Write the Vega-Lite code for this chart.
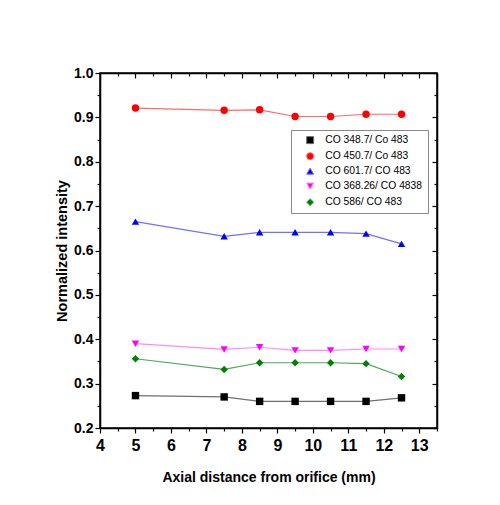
{
  "$schema": "https://vega.github.io/schema/vega-lite/v6.json",
  "width": 337,
  "height": 355,
  "autosize": {"type": "none"},
  "padding": {"left": 100, "top": 73, "right": 63, "bottom": 77},
  "background": "white",
  "config": {
    "view": {"stroke": "black", "strokeWidth": 1.5},
    "axis": {
      "grid": false,
      "domainColor": "black",
      "domainWidth": 1.5,
      "tickColor": "black",
      "tickWidth": 1.2,
      "labelColor": "black",
      "titleColor": "black",
      "labelFont": "Liberation Sans, Arial",
      "titleFont": "Liberation Sans, Arial",
      "labelFontWeight": "bold",
      "titleFontWeight": "bold"
    },
    "legend": {
      "orient": "none",
      "legendX": 191,
      "legendY": 57,
      "title": null,
      "strokeColor": "#888888",
      "fillColor": "white",
      "padding": 5,
      "labelFont": "Liberation Sans, Arial",
      "labelFontSize": 10.3,
      "labelColor": "black",
      "symbolSize": 49,
      "symbolOffset": 9,
      "labelOffset": 10,
      "rowPadding": 4
    }
  },
  "params": [
    {
      "name": "legendShape",
      "expr": "['M-3.7,0H3.7M-0.86,-0.86H0.86V0.86H-0.86Z','M-3.7,0H3.7M-1,0A1,1,0,1,1,1,0A1,1,0,1,1,-1,0Z','M-3.7,0H3.7M0,-1.1L1.15,0.85L-1.15,0.85Z','M-3.7,0H3.7M0,1.1L1.15,-0.85L-1.15,-0.85Z','M-3.7,0H3.7M0,-1.25L1.1,0L0,1.25L-1.1,0Z']"
    },
    {
      "name": "seriesOrder",
      "expr": "['CO 348.7/ Co 483','CO 450.7/ Co 483','CO 601.7/ CO 483','CO 368.26/ CO 4838','CO 586/ CO 483']"
    },
    {
      "name": "seriesColor",
      "expr": "['#000000','#ff0000','#0000ff','#ff00ff','#008000']"
    }
  ],
  "data": {
    "values": [
      {"series": "CO 348.7/ Co 483", "x": 5, "y": 0.273},
      {"series": "CO 348.7/ Co 483", "x": 7.5, "y": 0.270},
      {"series": "CO 348.7/ Co 483", "x": 8.5, "y": 0.260},
      {"series": "CO 348.7/ Co 483", "x": 9.5, "y": 0.260},
      {"series": "CO 348.7/ Co 483", "x": 10.5, "y": 0.260},
      {"series": "CO 348.7/ Co 483", "x": 11.5, "y": 0.260},
      {"series": "CO 348.7/ Co 483", "x": 12.5, "y": 0.268},
      {"series": "CO 450.7/ Co 483", "x": 5, "y": 0.921},
      {"series": "CO 450.7/ Co 483", "x": 7.5, "y": 0.916},
      {"series": "CO 450.7/ Co 483", "x": 8.5, "y": 0.917},
      {"series": "CO 450.7/ Co 483", "x": 9.5, "y": 0.902},
      {"series": "CO 450.7/ Co 483", "x": 10.5, "y": 0.902},
      {"series": "CO 450.7/ Co 483", "x": 11.5, "y": 0.907},
      {"series": "CO 450.7/ Co 483", "x": 12.5, "y": 0.907},
      {"series": "CO 601.7/ CO 483", "x": 5, "y": 0.665},
      {"series": "CO 601.7/ CO 483", "x": 7.5, "y": 0.632},
      {"series": "CO 601.7/ CO 483", "x": 8.5, "y": 0.641},
      {"series": "CO 601.7/ CO 483", "x": 9.5, "y": 0.641},
      {"series": "CO 601.7/ CO 483", "x": 10.5, "y": 0.641},
      {"series": "CO 601.7/ CO 483", "x": 11.5, "y": 0.638},
      {"series": "CO 601.7/ CO 483", "x": 12.5, "y": 0.615},
      {"series": "CO 368.26/ CO 4838", "x": 5, "y": 0.390},
      {"series": "CO 368.26/ CO 4838", "x": 7.5, "y": 0.377},
      {"series": "CO 368.26/ CO 4838", "x": 8.5, "y": 0.382},
      {"series": "CO 368.26/ CO 4838", "x": 9.5, "y": 0.375},
      {"series": "CO 368.26/ CO 4838", "x": 10.5, "y": 0.375},
      {"series": "CO 368.26/ CO 4838", "x": 11.5, "y": 0.378},
      {"series": "CO 368.26/ CO 4838", "x": 12.5, "y": 0.378},
      {"series": "CO 586/ CO 483", "x": 5, "y": 0.356},
      {"series": "CO 586/ CO 483", "x": 7.5, "y": 0.332},
      {"series": "CO 586/ CO 483", "x": 8.5, "y": 0.347},
      {"series": "CO 586/ CO 483", "x": 9.5, "y": 0.347},
      {"series": "CO 586/ CO 483", "x": 10.5, "y": 0.347},
      {"series": "CO 586/ CO 483", "x": 11.5, "y": 0.345},
      {"series": "CO 586/ CO 483", "x": 12.5, "y": 0.316}
    ]
  },
  "layer": [
    {
      "mark": {"type": "line", "strokeWidth": 1.2},
      "encoding": {
        "x": {
          "field": "x", "type": "quantitative",
          "scale": {"domain": [4, 13.5], "nice": false, "zero": false},
          "axis": {
            "orient": "bottom",
            "title": "Axial distance from orifice (mm)",
            "titleFontSize": 14,
            "titlePadding": 17,
            "values": [4, 4.5, 5, 5.5, 6, 6.5, 7, 7.5, 8, 8.5, 9, 9.5, 10, 10.5, 11, 11.5, 12, 12.5, 13, 13.5],
            "labelExpr": "datum.value % 1 !== 0 ? '' : format(datum.value, 'd')",
            "labelFontSize": 16,
            "labelPadding": 4,
            "labelFlush": false,
            "tickSize": {"condition": {"test": "datum.value % 1 !== 0", "value": 3}, "value": 5}
          }
        },
        "y": {
          "field": "y", "type": "quantitative",
          "scale": {"domain": [0.2, 1.0], "nice": false, "zero": false},
          "axis": {
            "orient": "left",
            "title": "Normalized intensity",
            "titleFontSize": 14.5,
            "titlePadding": 4,
            "values": [0.2, 0.25, 0.3, 0.35, 0.4, 0.45, 0.5, 0.55, 0.6, 0.65, 0.7, 0.75, 0.8, 0.85, 0.9, 0.95, 1.0],
            "labelExpr": "round(datum.value * 20) % 2 === 1 ? '' : format(datum.value, '.1f')",
            "labelFontSize": 14,
            "labelPadding": 2,
            "labelFlush": false,
            "tickSize": {"condition": {"test": "round(datum.value * 20) % 2 === 1", "value": 3}, "value": 5}
          }
        },
        "detail": {"field": "series"},
        "stroke": {
          "field": "series", "type": "nominal",
          "scale": {
            "domain": ["CO 348.7/ Co 483", "CO 450.7/ Co 483", "CO 601.7/ CO 483", "CO 368.26/ CO 4838", "CO 586/ CO 483"],
            "range": ["#707070", "#ff6a6a", "#7070ff", "#ff88ff", "#4caa5c"]
          },
          "legend": {
            "encode": {
              "symbols": {
                "update": {
                  "shape": {"value": {"signal": "legendShape[indexOf(seriesOrder, datum.value)]"}},
                  "fill": {"value": {"signal": "seriesColor[indexOf(seriesOrder, datum.value)]"}},
                  "stroke": {"value": {"signal": "seriesColor[indexOf(seriesOrder, datum.value)]"}},
                  "strokeWidth": {"value": 1}
                }
              }
            }
          }
        }
      }
    },
    {
      "mark": {"type": "point", "filled": true, "opacity": 1, "size": 55},
      "encoding": {
        "x": {
          "field": "x", "type": "quantitative",
          "axis": {
            "orient": "top",
            "title": null,
            "labels": false,
            "values": [4, 4.5, 5, 5.5, 6, 6.5, 7, 7.5, 8, 8.5, 9, 9.5, 10, 10.5, 11, 11.5, 12, 12.5, 13, 13.5],
            "tickSize": {"condition": {"test": "datum.value % 1 !== 0", "value": -3}, "value": -5}
          }
        },
        "y": {
          "field": "y", "type": "quantitative",
          "axis": {
            "orient": "right",
            "title": null,
            "labels": false,
            "values": [0.2, 0.25, 0.3, 0.35, 0.4, 0.45, 0.5, 0.55, 0.6, 0.65, 0.7, 0.75, 0.8, 0.85, 0.9, 0.95, 1.0],
            "tickSize": {"condition": {"test": "round(datum.value * 20) % 2 === 1", "value": -3}, "value": -5}
          }
        },
        "shape": {
          "field": "series", "type": "nominal",
          "scale": {
            "domain": ["CO 348.7/ Co 483", "CO 450.7/ Co 483", "CO 601.7/ CO 483", "CO 368.26/ CO 4838", "CO 586/ CO 483"],
            "range": ["square", "circle", "triangle-up", "triangle-down", "diamond"]
          },
          "legend": {
            "encode": {
              "symbols": {
                "update": {
                  "shape": {"value": {"signal": "legendShape[indexOf(seriesOrder, datum.value)]"}},
                  "fill": {"value": {"signal": "seriesColor[indexOf(seriesOrder, datum.value)]"}},
                  "stroke": {"value": {"signal": "seriesColor[indexOf(seriesOrder, datum.value)]"}},
                  "strokeWidth": {"value": 1}
                }
              }
            }
          }
        },
        "color": {
          "field": "series", "type": "nominal",
          "scale": {
            "domain": ["CO 348.7/ Co 483", "CO 450.7/ Co 483", "CO 601.7/ CO 483", "CO 368.26/ CO 4838", "CO 586/ CO 483"],
            "range": ["#000000", "#ff0000", "#0000ff", "#ff00ff", "#008000"]
          },
          "legend": {
            "encode": {
              "symbols": {
                "update": {
                  "shape": {"value": {"signal": "legendShape[indexOf(seriesOrder, datum.value)]"}},
                  "fill": {"value": {"signal": "seriesColor[indexOf(seriesOrder, datum.value)]"}},
                  "stroke": {"value": {"signal": "seriesColor[indexOf(seriesOrder, datum.value)]"}},
                  "strokeWidth": {"value": 1}
                }
              }
            }
          }
        }
      }
    }
  ],
  "resolve": {"axis": {"x": "independent", "y": "independent"}}
}
